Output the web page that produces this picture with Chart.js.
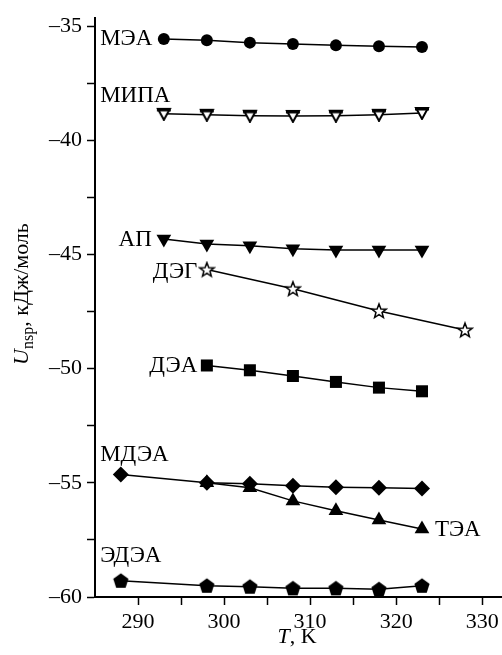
<!DOCTYPE html>
<html>
<head>
<meta charset="utf-8">
<script src="https://cdn.jsdelivr.net/npm/chart.js@4.4.1/dist/chart.umd.min.js"></script>
<style>
  html, body { margin: 0; padding: 0; background: #fff; }
</style>
</head>
<body>
<canvas id="plot" width="502" height="655"></canvas>
<script>
// temperatures, K
const tMea = [293, 298, 303, 308, 313, 318, 323];
const tDeg = [298, 308, 318, 328];
const tDea = [298, 303, 308, 313, 318, 323];
const tMdea = [288, 298, 303, 308, 313, 318, 323];
const tTea = [298, 303, 308, 313, 318, 323];

// U_nsp, kJ/mol
const mea  = [-35.56, -35.62, -35.72, -35.78, -35.84, -35.88, -35.91];
const mipa = [-38.84, -38.88, -38.92, -38.93, -38.92, -38.88, -38.80];
const ap   = [-44.32, -44.54, -44.62, -44.75, -44.80, -44.80, -44.80];
const deg  = [-45.66, -46.50, -47.47, -48.31];
const dea  = [-49.86, -50.07, -50.32, -50.58, -50.83, -50.99];
const mdea = [-54.63, -55.00, -55.04, -55.13, -55.19, -55.22, -55.25];
const tea  = [-55.00, -55.22, -55.79, -56.22, -56.63, -57.02];
const edea = [-59.29, -59.51, -59.55, -59.62, -59.62, -59.66, -59.51];

const names = ["МЭА", "МИПА", "АП", "ДЭГ", "ДЭА", "МДЭА", "ТЭА", "ЭДЭА"];

const SERIF = "'Liberation Serif', 'Times New Roman', serif";
const dash = "\u2013";

function toPoints(xs, ys) {
  return xs.map((x, i) => ({ x: x, y: ys[i] }));
}

// marker drawn on a small canvas
function marker(w, h, draw) {
  const c = document.createElement("canvas");
  c.width = w;
  c.height = h;
  const g = c.getContext("2d");
  g.fillStyle = "#000";
  g.strokeStyle = "#000";
  draw(g, w, h);
  return c;
}

const openTriDown = marker(16, 14, (g, w, h) => {
  g.beginPath();
  g.moveTo(2, 2);
  g.lineTo(w - 2, 2);
  g.lineTo(w / 2, h - 1);
  g.closePath();
  g.fillStyle = "#fff";
  g.fill();
  g.lineWidth = 2;
  g.stroke();
  g.fillStyle = "#000";
  g.fillRect(1, 1, w - 2, 3.5);
});

const openStar = marker(18, 18, (g, w, h) => {
  const cx = w / 2, cy = h / 2 + 0.5, ro = 7.5, ri = 3.2;
  g.beginPath();
  for (let i = 0; i < 10; i++) {
    const r = i % 2 ? ri : ro;
    const a = -Math.PI / 2 + i * Math.PI / 5;
    const px = cx + r * Math.cos(a), py = cy + r * Math.sin(a);
    if (i === 0) g.moveTo(px, py); else g.lineTo(px, py);
  }
  g.closePath();
  g.fillStyle = "#fff";
  g.fill();
  g.lineWidth = 1.5;
  g.stroke();
});

const pentagon = marker(18, 18, (g, w, h) => {
  const cx = w / 2, cy = h / 2 + 0.5, r = 8;
  g.beginPath();
  for (let i = 0; i < 5; i++) {
    const a = -Math.PI / 2 + i * 2 * Math.PI / 5;
    const px = cx + r * Math.cos(a), py = cy + r * Math.sin(a);
    if (i === 0) g.moveTo(px, py); else g.lineTo(px, py);
  }
  g.closePath();
  g.fill();
});

function series(label, xs, ys, style, extra) {
  return Object.assign({
    label: label,
    data: toPoints(xs, ys),
    showLine: true,
    borderColor: "#000",
    borderWidth: 1.5,
    backgroundColor: "#000",
    pointBorderColor: "#000",
    pointBackgroundColor: "#000",
    pointBorderWidth: 0,
    pointStyle: style,
    pointRadius: 6,
    tension: 0,
    clip: false
  }, extra || {});
}

// series captions, placed in data units
const captions = [
  { text: names[0], x: 285.6, y: -35.82, align: "left" },
  { text: names[1], x: 285.6, y: -38.30, align: "left" },
  { text: names[2], x: 291.6, y: -44.62, align: "right" },
  { text: names[3], x: 296.9, y: -46.02, align: "right" },
  { text: names[4], x: 296.9, y: -50.15, align: "right" },
  { text: names[5], x: 285.6, y: -54.05, align: "left" },
  { text: names[6], x: 324.5, y: -57.31, align: "left" },
  { text: names[7], x: 285.6, y: -58.47, align: "left" }
];

const captionPlugin = {
  id: "captions",
  afterDatasetsDraw(chart) {
    const { ctx, scales } = chart;
    ctx.save();
    ctx.fillStyle = "#000";
    ctx.font = "23px " + SERIF;
    ctx.textBaseline = "alphabetic";
    captions.forEach(c => {
      ctx.textAlign = c.align;
      ctx.fillText(c.text, scales.x.getPixelForValue(c.x), scales.y.getPixelForValue(c.y));
    });
    ctx.restore();
  }
};

// axis titles with italic symbols and subscript
const axisTitles = {
  id: "axisTitles",
  afterDraw(chart) {
    const { ctx } = chart;
    ctx.save();
    ctx.fillStyle = "#000";
    ctx.textBaseline = "alphabetic";
    ctx.textAlign = "left";

    // y title, rotated
    ctx.save();
    ctx.translate(28, 294);
    ctx.rotate(-Math.PI / 2);
    const partsY = [
      { t: "U", f: "italic 22px " + SERIF, dy: 0 },
      { t: "nsp", f: "16px " + SERIF, dy: 5 },
      { t: ", кДж/моль", f: "22px " + SERIF, dy: 0 }
    ];
    let total = 0;
    partsY.forEach(p => { ctx.font = p.f; total += ctx.measureText(p.t).width; });
    let x = -total / 2;
    partsY.forEach(p => {
      ctx.font = p.f;
      ctx.fillText(p.t, x, p.dy);
      x += ctx.measureText(p.t).width;
    });
    ctx.restore();

    // x title
    const partsX = [
      { t: "T", f: "italic 22px " + SERIF },
      { t: ", K", f: "22px " + SERIF }
    ];
    total = 0;
    partsX.forEach(p => { ctx.font = p.f; total += ctx.measureText(p.t).width; });
    x = 297 - total / 2;
    partsX.forEach(p => {
      ctx.font = p.f;
      ctx.fillText(p.t, x, 643);
      x += ctx.measureText(p.t).width;
    });
    ctx.restore();
  }
};

new Chart(document.getElementById("plot"), {
  type: "line",
  data: {
    datasets: [
      series(names[0], tMea, mea, "circle", { pointRadius: 6 }),
      series(names[1], tMea, mipa, openTriDown),
      series(names[2], tMea, ap, "triangle", { pointRadius: 8.5, pointRotation: 180 }),
      series(names[3], tDeg, deg, openStar),
      series(names[4], tDea, dea, "rect", { pointRadius: 8.5 }),
      series(names[5], tMdea, mdea, "rectRot", { pointRadius: 8 }),
      series(names[6], tTea, tea, "triangle", { pointRadius: 8.5 }),
      series(names[7], tMdea, edea, pentagon)
    ]
  },
  options: {
    responsive: false,
    animation: false,
    layout: {
      autoPadding: false,
      padding: { top: 13, right: 0, left: 0, bottom: 0 }
    },
    plugins: {
      legend: { display: false },
      tooltip: { enabled: false }
    },
    scales: {
      x: {
        type: "linear",
        min: 285,
        max: 332.3,
        afterFit(scale) {
          scale.height = 58;
          scale.paddingLeft = 0;
          scale.paddingRight = 0;
        },
        border: { color: "#000", width: 2 },
        grid: {
          drawOnChartArea: false,
          tickLength: 8,
          tickWidth: 1.5,
          tickColor: ctx => (ctx.tick && ctx.tick.value === 285 ? "rgba(0,0,0,0)" : "#000")
        },
        ticks: {
          stepSize: 5,
          includeBounds: false,
          maxRotation: 0,
          autoSkip: false,
          padding: 4,
          color: "#000",
          font: { family: SERIF, size: 22 },
          callback: v => (v % 10 === 0 ? String(v) : "")
        }
      },
      y: {
        type: "linear",
        min: -60,
        max: -34.65,
        afterFit(scale) { scale.width = 95; },
        border: { color: "#000", width: 2 },
        grid: {
          drawOnChartArea: false,
          tickLength: 8,
          tickWidth: 1.5,
          tickColor: "#000"
        },
        ticks: {
          stepSize: 2.5,
          includeBounds: false,
          autoSkip: false,
          padding: 5,
          color: "#000",
          font: { family: SERIF, size: 22 },
          callback: v => (v % 5 === 0 ? dash + Math.abs(v) : "")
        }
      }
    }
  },
  plugins: [captionPlugin, axisTitles]
});
</script>
</body>
</html>
